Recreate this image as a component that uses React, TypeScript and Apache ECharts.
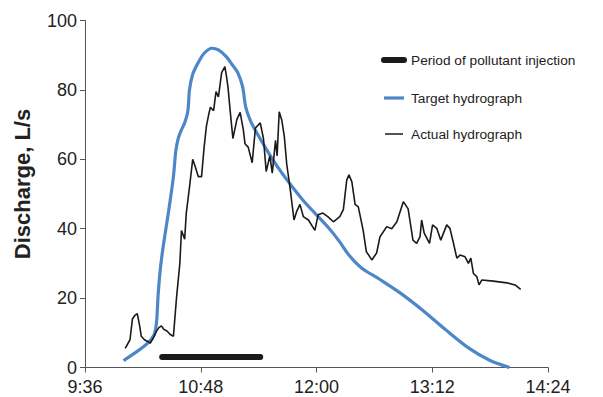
import React, { useEffect, useRef } from "react";
import * as echarts from "echarts";

// time in minutes since midnight, discharge in L/s
const xTicks = ["9:36", "10:48", "12:00", "13:12", "14:24"];
const injectionTimes = [624, 685];
const injectionValues = [3, 3];

const targetTimes = [600, 608, 615, 619, 620.5, 621.5, 623, 625, 628, 631, 632.5, 634, 636, 638, 640, 641, 643, 646, 650, 655, 659, 664, 668, 671, 674, 676, 679, 683, 690, 697, 705, 712, 720, 728, 734, 740, 748, 759, 772, 786, 800, 815, 828, 840];
const targetValues = [2, 4.5, 7, 9.5, 13, 21, 29, 36, 45, 55, 62.5, 66, 68.5, 70.5, 74, 80, 84.5, 87.5, 90.5, 92, 91.5, 89.5, 87, 85, 81, 75, 71, 67.5, 62, 57, 52, 48, 44, 40, 36.5, 32.5, 28.7, 25.5, 21.5, 16.5, 11, 5.5, 2, 0];

const actualTimes = [601, 604, 605.5, 607, 608.5, 610, 611, 613, 615, 616.5, 618.5, 620.5, 622, 623.5, 625, 627, 629, 631, 633, 635, 636, 638, 639, 641, 643, 644.5, 646.5, 648.5, 650, 651.5, 653, 654, 656, 657.5, 659, 661, 663, 664, 665, 666.5, 668, 670.5, 672.5, 674.5, 675.5, 677.5, 680, 682, 685, 687, 688.7, 691, 692.5, 694.5, 695.5, 696.8, 698.4, 700, 701.5, 703.5, 706, 707.7, 709.7, 711.8, 715, 719, 721, 724, 727, 730.5, 734.5, 736.7, 738.8, 740.2, 742, 744, 746, 749, 751, 754.4, 757.4, 759.5, 763.7, 766.8, 770, 774, 777, 780, 782.3, 784.4, 785.4, 787, 790.3, 792.2, 794.8, 797.3, 801, 803, 805.2, 807.3, 809.3, 812.4, 814.5, 816, 817.6, 819.7, 821.1, 822.8, 830, 838.4, 843.5, 847];
const actualValues = [5.5, 8, 14, 15, 15.5, 12, 9, 8, 7.5, 7, 8.5, 10.5, 11.5, 12, 11, 10.5, 9.5, 9, 20.5, 30, 39.5, 37, 44.5, 52, 60, 58, 55, 55, 63, 69.5, 73, 75, 74, 79.5, 78, 85, 86.7, 84, 80.5, 73, 66, 71.5, 73.5, 68.5, 64.5, 63.5, 59, 69, 70.5, 66, 56.5, 61, 56, 65.5, 61, 73.7, 71.3, 66.5, 58.5, 52, 42.5, 45, 47, 43.5, 42.5, 39.5, 44, 44.5, 43.5, 42, 43.5, 45.5, 54, 55.5, 53.5, 47, 46.3, 39.6, 33.4, 31, 33, 37.7, 40.6, 40, 42, 47.8, 45.7, 36.7, 35.8, 37.7, 42.5, 38.7, 35.8, 41.1, 40.1, 36.7, 41.1, 40.1, 35.8, 31.5, 32.4, 31.9, 30, 31.5, 27.1, 26.2, 23.8, 25.2, 24.9, 24.4, 23.8, 22.5];

const legendLabels = ["Period of pollutant injection", "Target hydrograph", "Actual hydrograph"];

const toPairs = (t: number[], v: number[]) => t.map((x, i) => [x, v[i]]);
const parseTime = (s: string) => {
  const [h, m] = s.split(":").map(Number);
  return h * 60 + m;
};

const BLUE = "#4d87c7";
const BLACK = "#1a1a1a";
const FONT = "Liberation Sans, Arial, Helvetica, sans-serif";

export default function App() {
  const ref = useRef<HTMLDivElement>(null);
  useEffect(() => {
    if (!ref.current) return;
    const chart = echarts.init(ref.current, null, { renderer: "svg" });
    const xMin = parseTime(xTicks[0]);
    const xMax = parseTime(xTicks[xTicks.length - 1]);
    const interval = parseTime(xTicks[1]) - xMin;
    const legendY = [60, 98, 134];
    chart.setOption({
      animation: false,
      backgroundColor: "#ffffff",
      grid: { left: 85, right: 55, top: 20.5, bottom: 29.5 },
      xAxis: {
        type: "value",
        min: xMin,
        max: xMax,
        interval,
        splitLine: { show: false },
        axisLine: { lineStyle: { color: "#555", width: 1 } },
        axisTick: { lineStyle: { color: "#555" }, length: 5 },
        axisLabel: {
          color: "#222",
          fontSize: 18,
          fontFamily: FONT,
          margin: 10,
          formatter: (v: number) => `${Math.floor(v / 60)}:${String(Math.round(v % 60)).padStart(2, "0")}`,
        },
      },
      yAxis: {
        type: "value",
        min: 0,
        max: 100,
        interval: 20,
        splitLine: { show: false },
        axisLine: { show: true, lineStyle: { color: "#555", width: 1 } },
        axisTick: { show: true, lineStyle: { color: "#555" }, length: 5 },
        axisLabel: { color: "#222", fontSize: 18, fontFamily: FONT, margin: 8 },
      },
      series: [
        {
          name: legendLabels[0],
          type: "line",
          data: toPairs(injectionTimes, injectionValues),
          showSymbol: false,
          symbol: "none",
          lineStyle: { color: BLACK, width: 6, cap: "round" },
          z: 3,
        },
        {
          name: legendLabels[1],
          type: "line",
          data: toPairs(targetTimes, targetValues),
          showSymbol: false,
          symbol: "none",
          smooth: 0.3,
          lineStyle: { color: BLUE, width: 3.2 },
          z: 2,
        },
        {
          name: legendLabels[2],
          type: "line",
          data: toPairs(actualTimes, actualValues),
          showSymbol: false,
          symbol: "none",
          lineStyle: { color: BLACK, width: 1.6 },
          z: 4,
        },
      ],
      graphic: [
        {
          type: "text",
          x: 22,
          y: 184,
          rotation: Math.PI / 2,
          style: {
            text: "Discharge, L/s",
            fill: "#222",
            font: `bold 22px ${FONT}`,
            textAlign: "center",
            textVerticalAlign: "middle",
          },
        },
        {
          type: "line",
          shape: { x1: 384, y1: legendY[0], x2: 404, y2: legendY[0] },
          style: { stroke: BLACK, lineWidth: 6, lineCap: "round" },
        },
        {
          type: "line",
          shape: { x1: 384, y1: legendY[1], x2: 404, y2: legendY[1] },
          style: { stroke: BLUE, lineWidth: 3.2 },
        },
        {
          type: "line",
          shape: { x1: 385, y1: legendY[2], x2: 403, y2: legendY[2] },
          style: { stroke: BLACK, lineWidth: 1.5 },
        },
        ...legendLabels.map((t, i) => ({
          type: "text",
          x: 411,
          y: legendY[i],
          style: {
            text: t,
            fill: "#222",
            font: `13.7px ${FONT}`,
            textAlign: "left",
            textVerticalAlign: "middle",
          },
        })),
      ],
    });
    return () => chart.dispose();
  }, []);
  return (
    <div
      ref={ref}
      style={{ position: "fixed", left: 0, top: 0, width: 603, height: 397, background: "#fff" }}
    />
  );
}
